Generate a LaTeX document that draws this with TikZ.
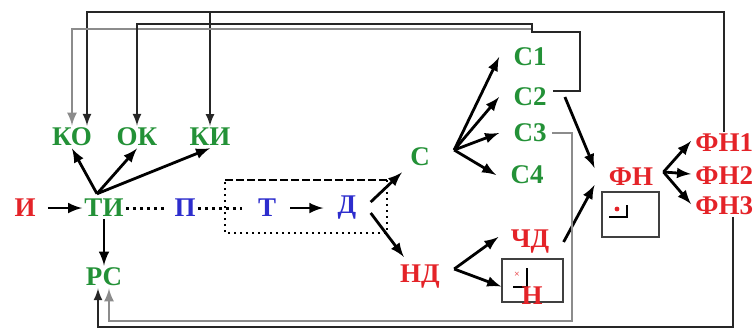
\documentclass[tikz,border=0pt]{standalone}
\usepackage{fontspec}
\setmainfont{Liberation Serif}
\usetikzlibrary{arrows,calc}
\definecolor{rd}{RGB}{228,35,40}
\definecolor{gn}{RGB}{35,145,55}
\definecolor{bl}{RGB}{45,45,205}

\begin{document}
\begin{tikzpicture}[x=0.5pt,y=-0.5pt,
  lbl/.style={font=\fontsize{13.5}{14}\selectfont\bfseries,inner sep=1pt},
  arr/.style={line width=1.4pt,-latex},
  fb/.style={line width=1pt,draw=black!85},
  fbg/.style={line width=1.2pt,draw=black!45}]
\useasboundingbox (0,0) rectangle (754,329);
% labels
\node[lbl,text=rd] (I) at (25,208) {И};
\foreach \n/\t/\x/\y in {TI/ТИ/104/208,KO/КО/72/137,OK/ОК/137/137,KI/КИ/210/137,RS/РС/104/277,S/С/420/157,S1/С1/530/57,S2/С2/530/97,S3/С3/530/133,S4/С4/527/175}
	\node[lbl,text=gn] (\n) at (\x,\y) {\t};
\node[lbl,text=bl] (P) at (185,208) {П};
\node[lbl,text=bl] (T) at (267,208) {Т};
\node[lbl,text=bl] (D) at (347,208) {Д};
\node[lbl,text=rd] (ND) at (420,277) {НД};
\node[lbl,text=rd] (CD) at (530,242) {ЧД};
\node[lbl,text=rd] (FN) at (631,177) {ФН};
\foreach \n/\t/\y in {FN1/ФН1/143,FN2/ФН2/176,FN3/ФН3/206}
	\node[lbl,text=rd,anchor=west] (\n) at (693,\y) {\t};
% boxes
\node[draw=black!75,line width=0.8pt,minimum width=30.5pt,minimum height=21.5pt] (bN) at (532.5,280.5) {};
\node[text=rd,font=\fontsize{5}{5}\selectfont,inner sep=0pt] (x) at (517,275) {×};
\draw[line width=0.8pt] (527,268) -- (527,287) -- (513,287);
\node[lbl,text=rd] (N) at (532,296) {Н};
\node[draw=black!75,line width=0.8pt,minimum width=28.5pt,minimum height=22.5pt] (bF) at (630.5,214.5) {};
\fill[rd] (617,209) circle (1.2pt);
\draw[line width=0.8pt] (627,205) -- (627,217) -- (609,217);
\draw[line width=1pt,dash pattern=on 4pt off 1.5pt] (225,180) -- (387,180);
\draw[line width=1pt,dotted] (387,180) -- (387,233) -- (225,233) -- (225,180);
% arrows
\draw[arr] ($(I.east)+(10,0)$) -- (TI.west);
\draw[arr] (TI.south) -- (RS.north);
\coordinate (ti) at ($(TI.north)+(-7,-3)$);
\foreach \n in {KO,OK,KI}
	\draw[arr] (ti) -- (\n.south);
\draw[line width=1.5pt,dotted] (TI.east) -- ($(P.west)+(-8,0)$);
\draw[line width=1.5pt,dotted] (P.east) -- ($(T.west)+(-14,0)$);
\draw[arr] ($(T.east)+(12,0)$) -- ($(D.west)+(-12,0)$);
\draw[arr] ($(D.east)+(12,-6)$) -- ($(S.south west)+(-6,4)$);
\draw[arr] ($(D.east)+(12,5)$) -- ($(ND.north west)+(6,-6)$);
\coordinate (s) at ($(S.east)+(22,-7)$);
\foreach \n in {S1,S2,S3,S4}
	\draw[arr] (s) -- ($(\n.west)+(-12,0)$);
\coordinate (nd) at ($(ND.east)+(12,-8)$);
\draw[arr] (nd) -- ($(CD.west)+(-10,-5)$);
\draw[arr] (nd) -- ($(bN.west)+(0,6)$);
\draw[arr] ($(S2.east)+(16,0)$) -- ($(FN.west)+(-12,-9)$);
\draw[arr] ($(CD.east)+(12,0)$) -- ($(FN.west)+(-12,8)$);
\coordinate (fn) at ($(FN.east)+(8,-5)$);
\foreach \n in {FN1,FN2,FN3}
	\draw[arr] (fn) -- ($(\n.west)+(-2,-2)$);
% feedback
\coordinate (t1) at (87,12);
\draw[fb,-latex] (FN1.north) |- (t1) -- (t1 |- KO.north);
\draw[fb,-latex] (KI.north |- t1) -- (KI.north);
\coordinate (c2a) at (580,32);
\coordinate (c2b) at (532,24);
\coordinate (c2c) at (532,29);
\draw[fbg,-latex] (c2c) -| (KO.north);
\draw[fb,-latex] ($(S2.east)+(4,-6)$) -| (c2a) -| (c2b) -| (OK.north);
\coordinate (b2) at (572,321);
\draw[fbg,-latex] ($(S3.east)+(3,0)$) -| (b2) -| ($(RS.south)+(5,0)$);
\coordinate (b1) at (98,327);
\draw[fb,-latex] ($(FN3.south)+(9,0)$) |- (b1) -- (b1 |- RS.south);
\end{tikzpicture}
\end{document}
